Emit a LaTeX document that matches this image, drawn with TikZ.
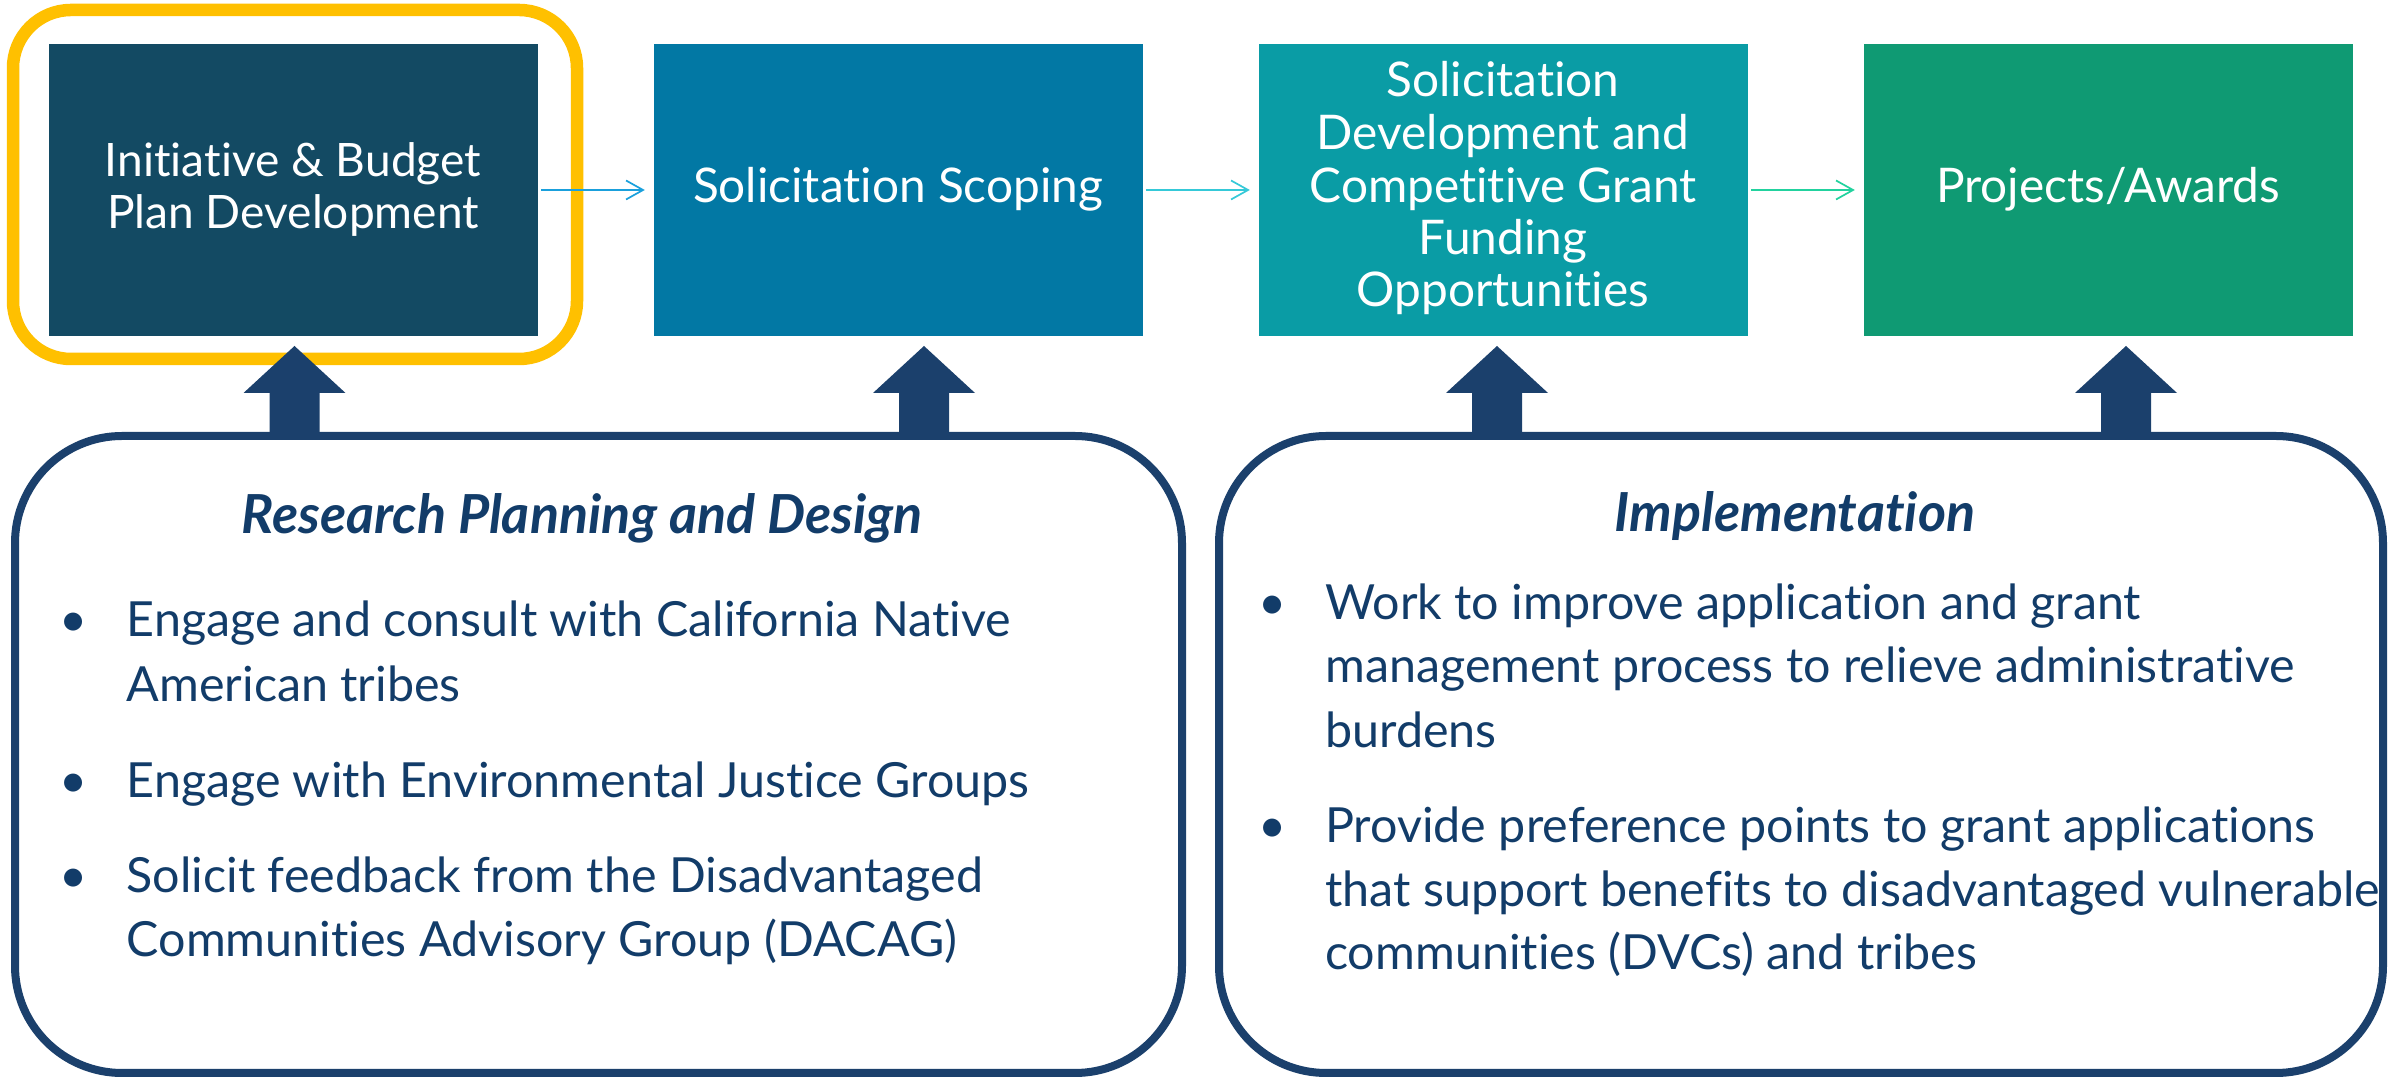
\documentclass[tikz,border=0pt]{standalone}
\usepackage{fontspec}
\setmainfont{Lato}[Ligatures={NoCommon,NoRare,NoContextual}]
\usetikzlibrary{arrows.meta}

\definecolor{stageA}{HTML}{134A63}
\definecolor{stageB}{HTML}{0278A4}
\definecolor{stageC}{HTML}{0A9CA5}
\definecolor{stageD}{HTML}{0F9A73}
\definecolor{frameY}{HTML}{FFC000}
\definecolor{navy}{HTML}{1B406C}
\definecolor{inkblue}{HTML}{123C69}
\definecolor{flowA}{HTML}{1AA0DC}
\definecolor{flowB}{HTML}{35C9D8}
\definecolor{flowC}{HTML}{22D29E}

% font size (in pt) that sets the sample text #3 to a width of #2 units (1 unit = 0.1 mm)
\newlength\calw
\newcommand\fitsize[3]{%
  \settowidth\calw{\fontsize{10pt}{12pt}\selectfont #3}%
  \pgfmathsetmacro#1{2.8453*#2/\calw}}

\tikzset{
  stagebox/.style={inner sep=0, minimum width=48.9mm, minimum height=29.2mm, draw=none},
  stagetxt/.style={anchor=base, inner sep=0, text=white,
    font=\fontsize{\topsz pt}{\topsz pt}\selectfont},
  firsttxt/.style={stagetxt, font=\fontsize{\firstsz pt}{\firstsz pt}\selectfont},
  panel/.style={draw=navy, line width=0.8mm, rounded corners=10.7mm, fill=none, inner sep=0},
  paneltitle/.style={anchor=base, inner sep=0, text=inkblue,
    font=\fontsize{\ttlsz pt}{\ttlsz pt}\selectfont\bfseries\itshape},
  bodytxt/.style={anchor=base west, inner sep=0, text=inkblue,
    font=\fontsize{\bodysz pt}{\bodysz pt}\selectfont},
  bulletmark/.style={anchor=base, inner sep=0, text=inkblue,
    font=\fontsize{\bodysz pt}{\bodysz pt}\selectfont},
  flow/.style={line width=0.17mm, shorten <=0.3mm, shorten >=0.8mm,
    -{Straight Barb[length=1.7mm, width=1.9mm]}},
  uparrow/.pic={\fill[navy] (-25,90) -- (-25,47) -- (-51,47) -- (0,0)
    -- (51,47) -- (25,47) -- (25,90) -- cycle;}
}

\begin{document}
\fitsize\topsz{410}{Solicitation Scoping}
\fitsize\firstsz{376}{Initiative \& Budget}
\fitsize\ttlsz{681}{\bfseries\itshape Research Planning and Design}
\fitsize\bodysz{884}{Engage and consult with California Native}
\begin{tikzpicture}[x=0.1mm, y=-0.1mm]
  \fill[white] (0,0) rectangle (2405,1077);
  \useasboundingbox (0,0) rectangle (2405,1077);

  % highlight frame around the first stage
  \draw[frameY, line width=1.25mm, rounded corners=5.8mm] (13,10) rectangle (577,359);

  % process stages
  \node[stagebox, fill=stageA] (b1) at (293,190) {};
  \node[stagebox, fill=stageB] (b2) at (898,190) {};
  \node[stagebox, fill=stageC] (b3) at (1503,190) {};
  \node[stagebox, fill=stageD] (b4) at (2108,190) {};

  \node[firsttxt] (t1a) at (293,177) {Initiative \& Budget};
  \node[firsttxt] (t1b) at (293,229) {Plan Development};
  \node[stagetxt] (t2) at (898,203) {Solicitation Scoping};
  \node[stagetxt] (t3a) at (1503,97) {Solicitation};
  \node[stagetxt] (t3b) at (1503,150) {Development and};
  \node[stagetxt] (t3c) at (1503,203) {Competitive Grant};
  \node[stagetxt] (t3d) at (1503,255) {Funding};
  \node[stagetxt] (t3e) at (1503,307) {Opportunities};
  \node[stagetxt] (t4) at (2108,203) {Projects/Awards};

  % flow between stages
  \draw[flow, flowA] (b1) -- (b2);
  \draw[flow, flowB] (b2) -- (b3);
  \draw[flow, flowC] (b3) -- (b4);

  % inputs from the two activity panels
  \pic at (294.5,346) {uparrow};
  \pic at (924,346) {uparrow};
  \pic at (1497,346) {uparrow};
  \pic at (2126,346) {uparrow};

  % activity panels
  \node[panel, minimum width=116.7mm, minimum height=63.7mm] (p1) at (598.5,754.5) {};
  \node[panel, minimum width=116.4mm, minimum height=63.7mm] (p2) at (1801,754.5) {};

  \node[paneltitle] (h1) at (582,534) {Research Planning and Design};
  \node[bulletmark] (m1) at (74,637) {•};
  \node[bulletmark] (m2) at (74,798) {•};
  \node[bulletmark] (m3) at (74,893) {•};
  \node[bodytxt] (l1a) at (126,637) {Engage and consult with California Native};
  \node[bodytxt] (l1b) at (126,702) {American tribes};
  \node[bodytxt] (l2a) at (126,798) {Engage with Environmental Justice Groups};
  \node[bodytxt] (l3a) at (126,893) {Solicit feedback from the Disadvantaged};
  \node[bodytxt] (l3b) at (126,957) {Communities Advisory Group (DACAG)};

  \node[paneltitle] (h2) at (1795,532) {Implementation};
  \node[bulletmark] (n1) at (1273,620) {•};
  \node[bulletmark] (n2) at (1273,843) {•};
  \node[bodytxt] (r1a) at (1324.5,620) {Work to improve application and grant};
  \node[bodytxt] (r1b) at (1324.5,683) {management process to relieve administrative};
  \node[bodytxt] (r1c) at (1324.5,748) {burdens};
  \node[bodytxt] (r2a) at (1324.5,843) {Provide preference points to grant applications};
  \node[bodytxt] (r2b) at (1324.5,907) {that support benefits to disadvantaged vulnerable};
  \node[bodytxt] (r2c) at (1324.5,970) {communities (DVCs) and tribes};
\end{tikzpicture}
\end{document}
